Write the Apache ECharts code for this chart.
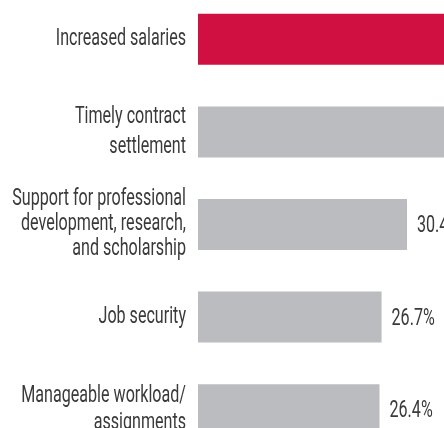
<!DOCTYPE html>
<html>
<head>
<meta charset="utf-8">
<script src="https://cdn.jsdelivr.net/npm/echarts@6/dist/echarts.min.js"></script>
<style>
  html, body { margin: 0; padding: 0; background: #fff; }
  #chart { width: 444px; height: 428px; }
</style>
</head>
<body>
<div id="chart"></div>
<script>
// Survey priorities, shares of respondents (%)
const categories = [
  'Increased salaries',
  'Timely contract\nsettlement',
  'Support for professional\ndevelopment, research,\nand scholarship',
  'Job security',
  'Manageable workload/\nassignments'
];
const values = [58.2, 38.6, 30.4, 26.7, 26.4];
const highlightIndex = 0;

const FONT_FAMILY = 'Roboto, "Noto Sans", sans-serif';
const FONT_SIZE = 23;
const TEXT = '#3a3a3a';
const NARROW = 0.7;           // horizontal squeeze for a condensed look
const LINE_HEIGHTS = [28, 30, 25, 28, 27];

const chart = echarts.init(document.getElementById('chart'));
chart.setOption({
  animation: false,
  grid: { left: 198, top: -7, height: 463, width: 412.5, outerBoundsMode: 'none', containLabel: false },
  xAxis: { type: 'value', min: 0, max: 60, show: false },
  yAxis: {
    type: 'category', inverse: true, data: categories,
    axisLine: { show: false }, axisTick: { show: false },
    axisLabel: { show: false }
  },
  series: [{
    type: 'bar',
    data: values.map((v, i) => ({
      value: v,
      itemStyle: { color: i === highlightIndex ? '#D01040' : '#BBBCC0' }
    })),
    barWidth: 51
  }]
});

// Category names and value labels, set in a narrowed face
const texts = [];
categories.forEach((name, i) => {
  const [x0, y] = chart.convertToPixel({ gridIndex: 0 }, [0, i]);
  const [xv] = chart.convertToPixel({ gridIndex: 0 }, [values[i], i]);
  texts.push({
    type: 'text', x: x0 - 12, y: y, scaleX: NARROW,
    style: {
      text: name, fontFamily: FONT_FAMILY, fontSize: FONT_SIZE, fill: TEXT,
      align: 'right', verticalAlign: 'middle', lineHeight: LINE_HEIGHTS[i]
    }
  });
  texts.push({
    type: 'text', x: xv + 10, y: y + 2, scaleX: NARROW,
    style: {
      text: values[i].toFixed(1) + '%', fontFamily: FONT_FAMILY, fontSize: FONT_SIZE, fill: TEXT,
      align: 'left', verticalAlign: 'middle'
    }
  });
});
chart.setOption({ graphic: texts });
</script>
</body>
</html>
